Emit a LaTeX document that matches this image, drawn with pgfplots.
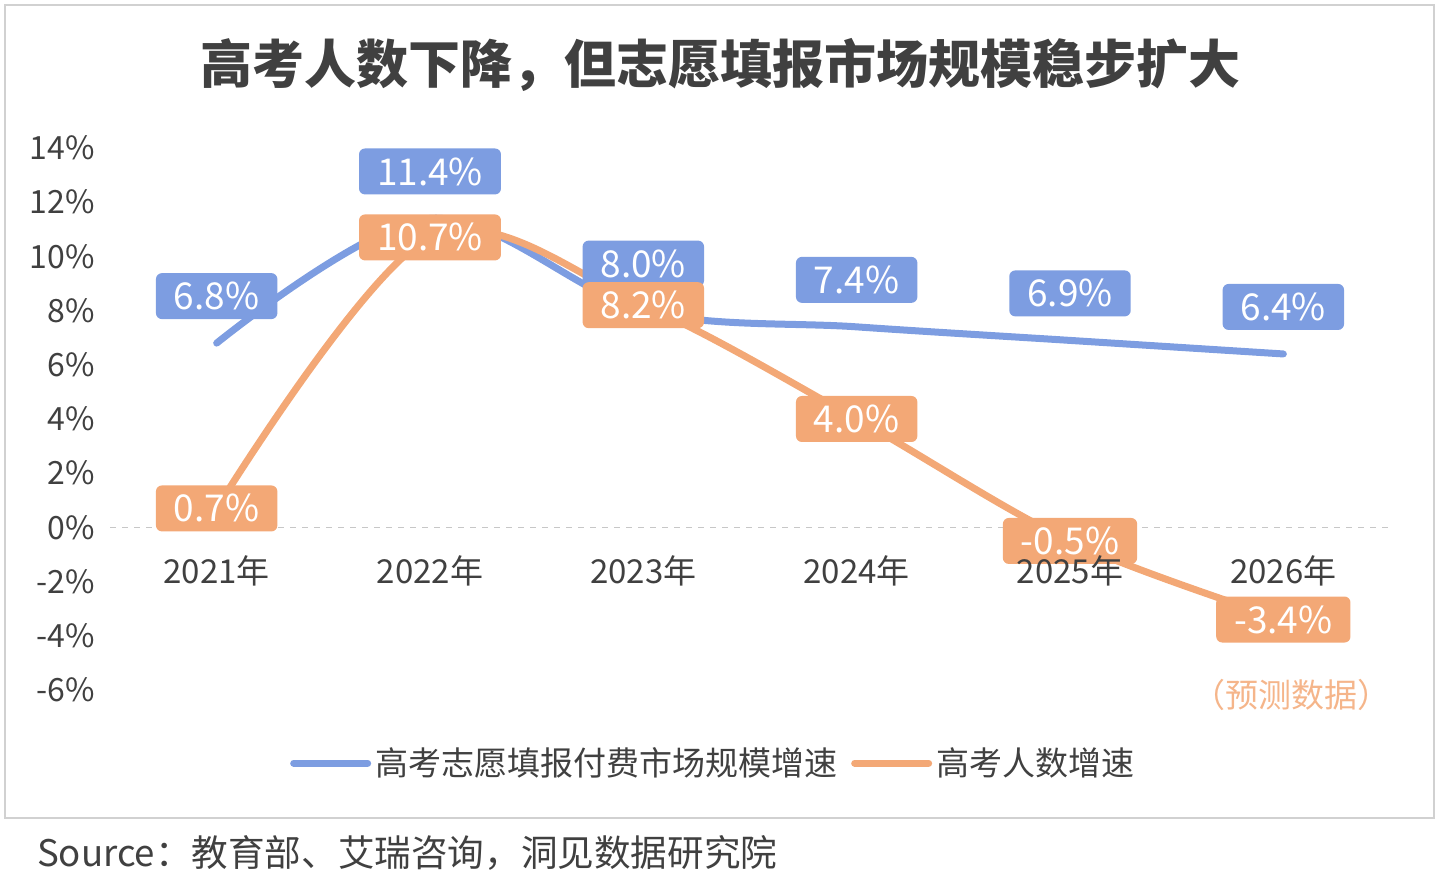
\documentclass[border=0pt]{standalone}
\usepackage{pgfplots}
\pgfplotsset{compat=1.18}
\usepackage{fontspec}
\setmainfont{Noto Sans CJK SC}
\definecolor{cblue}{HTML}{7D9DE1}
\definecolor{corange}{HTML}{F3A876}
\definecolor{ctext}{HTML}{404040}
\begin{document}
\begin{tikzpicture}[x=0.5pt,y=0.5pt]
\path[use as bounding box] (0,0) rectangle (1439,878);
\draw[line width=1pt, color=black!18] (5,60) rectangle (1434,873);
\node[font=\fontsize{26}{30}\selectfont\bfseries, text=ctext] at (720,813) {高考人数下降，但志愿填报市场规模稳步扩大};
\node[font=\fontsize{18.3}{21}\selectfont, text=ctext, anchor=west] at (30,25) {Source：教育部、艾瑞咨询，洞见数据研究院};
\begin{axis}[
  at={(55pt,94pt)}, anchor=south west,
  scale only axis, width=640pt, height=271pt,
  xmin=-0.5, xmax=5.5, ymin=-6, ymax=14,
  axis line style={draw=none},
  xtick=\empty,
  ytick={-6,-4,...,14},
  yticklabel={\pgfmathprintnumber{\tick}\%},
  major tick length=0pt,
  yticklabel style={font=\fontsize{16}{19}\selectfont, text=ctext, xshift=-4pt},
  /pgf/number format/assume math mode=true,
  clip=false,
  legend style={at={(0.472,-0.135)}, anchor=center, draw=none, fill=none,
    legend columns=2, font=\fontsize{16.5}{19}\selectfont, text=ctext,
    /tikz/every even column/.append style={column sep=5pt}},
  legend image code/.code={\draw[#1, line width=3.5pt] (0pt,0pt) -- (37pt,0pt);},
]
\draw[dashed, color=black!22, line width=0.8pt] (axis cs:-0.5,0) -- (axis cs:5.5,0);
\addplot[cblue, line width=3.5pt, smooth, tension=0.55, line cap=round] coordinates {(0,6.8) (1,11.4) (2,8.0) (3,7.4) (4,6.9) (5,6.4)};
\addlegendentry{高考志愿填报付费市场规模增速}
\addplot[corange, line width=3.5pt, smooth, tension=0.55, line cap=round] coordinates {(0,0.7) (1,10.7) (2,8.2) (3,4.0) (4,-0.5) (5,-3.4)};
\addlegendentry{高考人数增速}
\addplot[draw=none, forget plot, nodes near coords,
  point meta=y,
  nodes near coords={\pgfmathprintnumber[fixed,precision=1,fixed zerofill]{\pgfplotspointmeta}\%},
  every node near coord/.style={anchor=center, yshift=23.5pt, fill=cblue, text=white,
    rounded corners=3pt, minimum height=23pt, inner xsep=9pt,
    font=\fontsize{18.5}{20}\selectfont}]
  coordinates {(0,6.8) (1,11.4) (2,8.0) (3,7.4) (4,6.9) (5,6.4)};
\addplot[draw=none, forget plot, nodes near coords,
  point meta=y,
  nodes near coords={\pgfmathprintnumber[fixed,precision=1,fixed zerofill]{\pgfplotspointmeta}\%},
  every node near coord/.style={anchor=center, fill=corange, text=white,
    rounded corners=3pt, minimum height=23pt, inner xsep=9pt,
    font=\fontsize{18.5}{20}\selectfont}]
  coordinates {(0,0.7) (1,10.7) (2,8.2) (3,4.0) (4,-0.5) (5,-3.4)};
\addplot[draw=none, forget plot, nodes near coords,
  point meta=explicit symbolic,
  every node near coord/.style={anchor=center, text=ctext,
    font=\fontsize{16.5}{19}\selectfont}]
  table[meta=label] {
x y label
0 -1.6 2021年
1 -1.6 2022年
2 -1.6 2023年
3 -1.6 2024年
4 -1.6 2025年
5 -1.6 2026年
};
\node[font=\fontsize{16.5}{19}\selectfont, text=corange!85] at (axis cs:5.04,-6.2) {（预测数据）};
\end{axis}
\end{tikzpicture}
\end{document}
